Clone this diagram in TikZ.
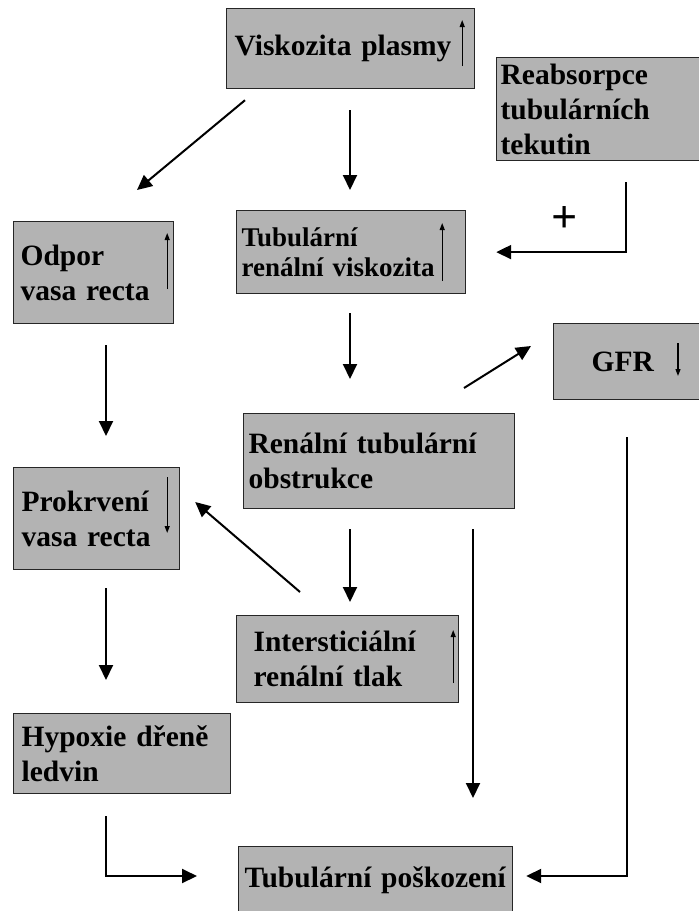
\documentclass[tikz,border=0pt]{standalone}
\usepackage{fontspec}
\newfontfamily\boxfont{Liberation Serif}
\usetikzlibrary{arrows.meta,calc}
\definecolor{boxgray}{RGB}{179,179,179}
\tikzset{
  box/.style={draw=black!85, line width=1.2pt, fill=boxgray, anchor=north west, align=left,
    text=black, font=\boxfont\bfseries\fontsize{29.5}{35}\selectfont},
  conn/.style={line width=2pt, -{Triangle[length=15pt,width=14pt]}},
  trend/.style={line width=1.2pt, -{Triangle[length=7pt,width=5pt]}}
}
\begin{document}
\begin{tikzpicture}[x=1pt, y=-1pt]
  \useasboundingbox (0,0) rectangle (699,911);

  % boxes
  \node[box, text width=232pt, inner xsep=8pt, minimum height=80pt] (visk) at (226,8) {Viskozita plasmy};
  \node[box, text width=201pt, inner xsep=4pt, minimum height=103pt] (reab) at (496,57) {Reabsorpce\\tubulárních\\tekutin};
  \node[box, text width=146pt, inner xsep=7pt, minimum height=102pt] (odpor) at (13,221) {Odpor\\vasa recta};
  \node[box, text width=219pt, inner xsep=5pt, minimum height=83pt,
    font=\boxfont\bfseries\fontsize{27}{30}\selectfont] (tubv) at (236,210) {Tubulární\\renální viskozita};
  \node[box, text width=76pt, inner xsep=38pt, minimum height=76pt] (gfr) at (553,323) {GFR};
  \node[box, text width=261pt, inner xsep=5pt, minimum height=95pt] (obst) at (243,413) {Renální tubulární\\obstrukce};
  \node[box, text width=150pt, inner xsep=8pt, minimum height=102pt] (prok) at (13,467) {Prokrvení\\vasa recta};
  \node[box, text width=188pt, inner xsep=17pt, minimum height=87pt] (inter) at (236,615) {Intersticiální\\renální tlak};
  \node[box, text width=201pt, inner xsep=8pt, minimum height=80pt] (hyp) at (13,713) {Hypoxie dřeně\\ledvin};
  \node[box, text width=262pt, inner xsep=6pt, minimum height=68pt] (pos) at (238,846) {Tubulární~poškození};

  % up / down marks inside the boxes
  \draw[trend] ($(visk.north east)+(-13,58)$) -- ($(visk.north east)+(-13,12)$);
  \draw[trend] ($(odpor.north east)+(-7,68)$) -- ($(odpor.north east)+(-7,12)$);
  \draw[trend] ($(tubv.north east)+(-24,71)$) -- ($(tubv.north east)+(-24,13)$);
  \draw[trend] ($(gfr.north west)+(125,20)$) -- ($(gfr.north west)+(125,53)$);
  \draw[trend] ($(prok.north east)+(-13,10)$) -- ($(prok.north east)+(-13,66)$);
  \draw[trend] ($(inter.north east)+(-6,68)$) -- ($(inter.north east)+(-6,15)$);

  % connectors
  \draw[conn] ($(visk.south west)+(19,11)$) -- ($(odpor.north west)+(124,-31)$);
  \draw[conn] ($(visk.south west)+(124,21)$) -- ($(tubv.north west)+(114,-20)$);
  \draw[conn] ($(reab.south west)+(130,21)$) |- ($(tubv.east)+(30,0)$);
  \node[font=\boxfont\bfseries\fontsize{46}{46}\selectfont] (plus) at (565,220) {+};
  \draw[conn] ($(odpor.south west)+(93,21)$) -- ($(prok.north west)+(93,-31)$);
  \draw[conn] ($(tubv.south west)+(114,19)$) -- ($(obst.north west)+(107,-34)$);
  \draw[conn] ($(obst.north west)+(221,-25)$) -- ($(gfr.north west)+(-22,23)$);
  \draw[conn] ($(obst.south west)+(107,20)$) -- ($(inter.north west)+(114,-13)$);
  \draw[conn] ($(inter.north west)+(64,-23)$) -- ($(prok.north east)+(15,35)$);
  \draw[conn] ($(obst.south west)+(230,20)$) -- ($(pos.north west)+(235,-48)$);
  \draw[conn] ($(gfr.south west)+(74,37)$) |- ($(pos.north east)+(13,30)$);
  \draw[conn] ($(prok.south west)+(93,18)$) -- ($(hyp.north west)+(93,-33)$);
  \draw[conn] ($(hyp.south west)+(93,22)$) |- ($(pos.north west)+(-41,30)$);
\end{tikzpicture}
\end{document}
